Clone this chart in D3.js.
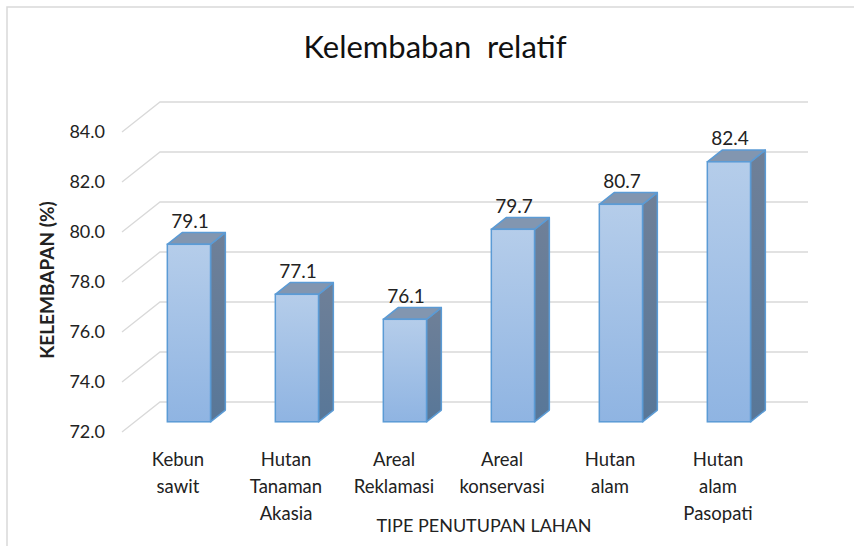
<!DOCTYPE html>
<html>
<head>
<meta charset="utf-8">
<script src="https://cdn.jsdelivr.net/npm/d3@7"></script>
<style>
  body { margin: 0; background: #fff; }
  svg { font-family: Lato, "Open Sans", sans-serif; }
</style>
</head>
<body>
<svg width="854" height="546"></svg>
<script>
// data
var categories = [
  ["Kebun", "sawit"],
  ["Hutan", "Tanaman", "Akasia"],
  ["Areal", "Reklamasi"],
  ["Areal", "konservasi"],
  ["Hutan", "alam"],
  ["Hutan", "alam", "Pasopati"]
];
var values = [79.1, 77.1, 76.1, 79.7, 80.7, 82.4];
var yTicks = [72, 74, 76, 78, 80, 82, 84];

var svg = d3.select("svg");

// 3d box: back wall coords, front plane is shifted by (dx, dy)
var DX = -38, DY = 30;
var frontD = 0.66, backD = 0.27;   // bar depth, 0 = back wall, 1 = front

var x = d3.scaleBand()
  .domain(d3.range(values.length))
  .range([160, 808])
  .paddingInner(0.6)
  .paddingOuter(0.3);
var y = d3.scaleLinear().domain([72, 84]).range([402, 102]);

// chart border (only top/left visible)
svg.append("path")
  .attr("d", "M7,546 L7,7 L854,7")
  .attr("fill", "none")
  .attr("stroke", "#d9d9d9")
  .attr("stroke-width", 1.5);

var defs = svg.append("defs");
var gf = defs.append("linearGradient").attr("id", "front").attr("x1", 0).attr("y1", 0).attr("x2", 0).attr("y2", 1);
gf.append("stop").attr("offset", "0%").attr("stop-color", "#b5cdea");
gf.append("stop").attr("offset", "100%").attr("stop-color", "#8fb4e2");
var gs = defs.append("linearGradient").attr("id", "side").attr("x1", 0).attr("y1", 0).attr("x2", 0).attr("y2", 1);
gs.append("stop").attr("offset", "0%").attr("stop-color", "#6f8098");
gs.append("stop").attr("offset", "100%").attr("stop-color", "#587798");

// gridlines: back wall + left diagonal
var grid = svg.append("g");
yTicks.forEach(function(t) {
  grid.append("path")
    .attr("d", "M" + (x.range()[0] + DX) + "," + (y(t) + DY) +
               " L" + x.range()[0] + "," + y(t) +
               " L" + x.range()[1] + "," + y(t))
    .attr("fill", "none")
    .attr("stroke", "#d9d9d9")
    .attr("stroke-width", 1.3);
});

// y tick labels
svg.append("g").selectAll("text")
  .data(yTicks)
  .join("text")
  .attr("x", 105)
  .attr("y", function(d) { return y(d) + DY + 6; })
  .attr("text-anchor", "end")
  .attr("font-size", 18)
  .attr("fill", "#222")
  .text(function(d) { return d.toFixed(1); });

// bars
var bars = svg.append("g").selectAll("g")
  .data(values)
  .join("g");

bars.each(function(v, i) {
  var g = d3.select(this);
  var fx = x(i) + DX * frontD, fy = DY * frontD;
  var bx = x(i) + DX * backD, by = DY * backD;
  var w = x.bandwidth();
  var top = y(v), base = y(72);
  // side face
  g.append("path")
    .attr("d", "M" + (fx + w) + "," + (top + fy) + " L" + (bx + w) + "," + (top + by) +
               " L" + (bx + w) + "," + (base + by) + " L" + (fx + w) + "," + (base + fy) + "Z")
    .attr("fill", "url(#side)")
    .attr("stroke", "#5b9bd5").attr("stroke-width", 1.5).attr("stroke-linejoin", "round");
  // top face
  g.append("path")
    .attr("d", "M" + fx + "," + (top + fy) + " L" + bx + "," + (top + by) +
               " L" + (bx + w) + "," + (top + by) + " L" + (fx + w) + "," + (top + fy) + "Z")
    .attr("fill", "#8296b0")
    .attr("stroke", "#5b9bd5").attr("stroke-width", 1.5).attr("stroke-linejoin", "round");
  // front face
  g.append("rect")
    .attr("x", fx).attr("y", top + fy)
    .attr("width", w).attr("height", base - top)
    .attr("fill", "url(#front)")
    .attr("stroke", "#5b9bd5").attr("stroke-width", 1.5);
  // value label
  g.append("text")
    .attr("x", fx + w / 2 + 1)
    .attr("y", top + by - 5)
    .attr("text-anchor", "middle")
    .attr("font-size", 19)
    .attr("fill", "#222")
    .text(v.toFixed(1));
});

// category labels on front plane
svg.append("g").selectAll("text")
  .data(categories)
  .join("text")
  .attr("x", function(d, i) { return x(i) + x.bandwidth() / 2 + DX + 2; })
  .attr("y", 466)
  .attr("text-anchor", "middle")
  .attr("font-size", 18.5)
  .attr("fill", "#222")
  .each(function(d) {
    var t = d3.select(this);
    d.forEach(function(line, k) {
      t.append("tspan")
        .attr("x", t.attr("x"))
        .attr("dy", k === 0 ? 0 : 27)
        .text(line);
    });
  });

// axis titles
svg.append("text")
  .attr("x", 484).attr("y", 532)
  .attr("text-anchor", "middle")
  .attr("font-size", 18)
  .attr("fill", "#222")
  .text("TIPE PENUTUPAN LAHAN");

svg.append("text")
  .attr("transform", "translate(54,280) rotate(-90)")
  .attr("text-anchor", "middle")
  .attr("font-size", 19)
  .attr("font-weight", "bold")
  .attr("fill", "#222")
  .text("KELEMBAPAN (%)");

// title
svg.append("text")
  .attr("x", 435).attr("y", 58)
  .attr("text-anchor", "middle")
  .attr("font-size", 31)
  .attr("fill", "#111")
  .attr("xml:space", "preserve")
  .style("white-space", "pre")
  .text("Kelembaban  relatif");
</script>
</body>
</html>
